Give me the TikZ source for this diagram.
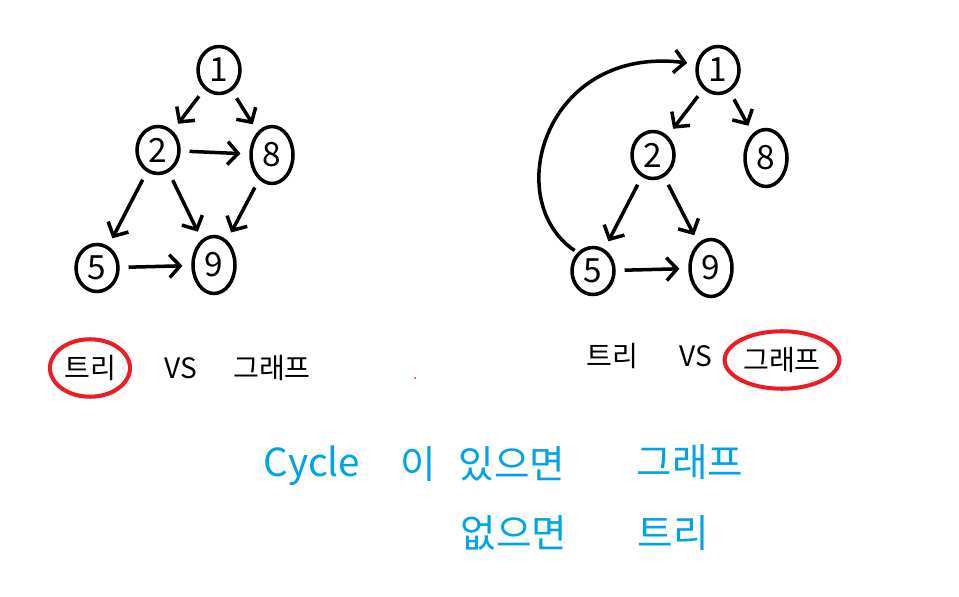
\documentclass[tikz,border=0pt]{standalone}
\usepackage{fontspec}
\newfontfamily\kor{Noto Sans CJK KR}
\usetikzlibrary{arrows.meta,shapes.geometric}
\definecolor{paintred}{RGB}{237,28,36}
\definecolor{paintblue}{RGB}{0,162,232}
\tikzset{
  vtx/.style={draw, ellipse, line width=2pt, inner sep=0pt,
    minimum width=0.84cm, minimum height=0.94cm,
    font=\kor\fontsize{19}{19}\selectfont},
  tall/.style={minimum height=1.14cm},
  edge/.style={line width=2pt, -{Straight Barb[length=6pt,width=13pt]},
    shorten >=5pt, shorten <=5pt},
  word/.style={font=\kor\fontsize{16}{16}\selectfont, inner sep=1pt},
  redring/.style={draw=paintred, ellipse, line width=2.3pt},
  note/.style={font=\kor\fontsize{22}{22}\selectfont, text=paintblue, inner sep=1pt}
}
\begin{document}
\begin{tikzpicture}[x=0.02cm, y=-0.02cm]
        \useasboundingbox (0,0) rectangle (959,597);

        % ---- left picture: every edge kept ----------------
        \node[vtx]       (l1) at (219,70)  {1};
        \node[vtx]       (l2) at (158,150) {2};
        \node[vtx, tall] (l8) at (272,155) {8};
        \node[vtx]       (l5) at (97,268)  {5};
        \node[vtx, tall] (l9) at (214,265) {9};
        \draw[edge] (l1) -- (l2);
        \draw[edge] (l1) -- (l8);
        \draw[edge] (l2) -- (l8);
        \draw[edge] (l2) -- (l5);
        \draw[edge] (l2) -- (l9);
        \draw[edge] (l8) -- (l9);
        \draw[edge] (l5) -- (l9);

        % ---- right picture: 5 goes back up to 1 -----------
        \node[vtx]       (r1) at (718,70)  {1};
        \node[vtx]       (r2) at (653,155) {2};
        \node[vtx, tall] (r8) at (766,158) {8};
        \node[vtx]       (r5) at (593,271) {5};
        \node[vtx, tall] (r9) at (711,268) {9};
        \draw[edge] (r1) -- (r2);
        \draw[edge] (r1) -- (r8);
        \draw[edge] (r2) -- (r5);
        \draw[edge] (r2) -- (r9);
        \draw[edge] (r5) -- (r9);
        \draw[edge, shorten <=2pt] (r5.130) .. controls (500,200) and (545,45) .. (r1.165);

        % ---- which one is which ---------------------------
        \node[word, redring, minimum width=1.6cm, minimum height=1.15cm] (ltree) at (90,368) {트리};
        \node[word] (lvs)    at (181,368) {VS};
        \node[word] (lgraph) at (272,368) {그래프};
        \node[word] (rtree)  at (612,356) {트리};
        \node[word] (rvs)    at (696,356) {VS};
        \node[word, redring, minimum width=2.25cm, minimum height=1.15cm] (rgraph) at (782,360) {그래프};
        \fill[paintred] (415,378) circle (1);

        % ---- the rule -----------------------------------
        \node[note] (cyc)   at (312,466) {Cycle};
        \node[note] (subj)  at (418,464) {이};
        \node[note] (have)  at (512,464) {있으면};
        \node[note] (isg)   at (690,462) {그래프};
        \node[note] (nohave) at (514,533) {없으면};
        \node[note] (ist)   at (673,533) {트리};
\end{tikzpicture}
\end{document}
